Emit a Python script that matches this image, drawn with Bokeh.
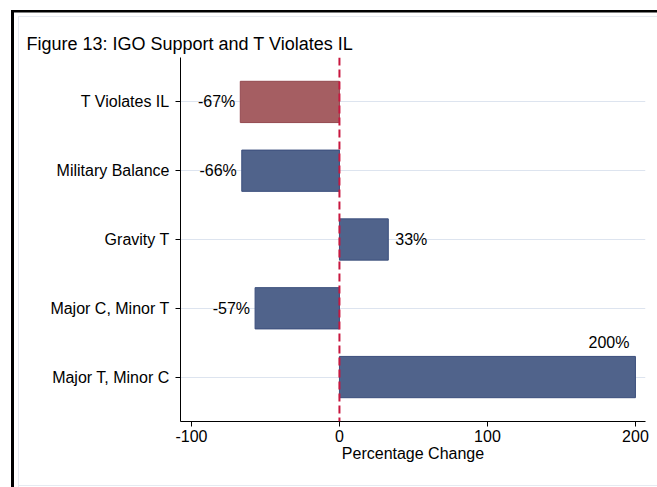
from bokeh.plotting import figure
from bokeh.models import ColumnDataSource, FixedTicker, Span, Range1d
from bokeh.core.properties import value
from bokeh.embed import file_html
from bokeh.resources import INLINE

# ---- data (top to bottom) ----
categories = ["T Violates IL", "Military Balance", "Gravity T", "Major C, Minor T", "Major T, Minor C"]
pct_change = [-67, -66, 33, -57, 200]
bar_labels = ["-67%", "-66%", "33%", "-57%", "200%"]
highlight = [True, False, False, False, False]
x_ticks = [-100, 0, 100, 200]
x_tick_labels = ["-100", "0", "100", "200"]

FONT = "Liberation Sans"
RED_FILL, RED_LINE = "#a55e62", "#94494f"
BLUE_FILL, BLUE_LINE = "#50638b", "#3b4e7c"

n = len(categories)
ypos = [n - i for i in range(n)]

src = ColumnDataSource(dict(
    y=ypos, val=pct_change, zero=[0] * n, lab=bar_labels,
    fill=[RED_FILL if h else BLUE_FILL for h in highlight],
    line=[RED_LINE if h else BLUE_LINE for h in highlight],
))

W, H = 657, 487
p = figure(width=W, height=H, output_backend="svg", toolbar_location=None,
           x_range=Range1d(-107.4, 206.8), y_range=Range1d(0.354, n + 0.646),
           min_border_left=180, min_border_right=12, min_border_top=57, min_border_bottom=66)

p.background_fill_color = "white"
p.border_fill_color = None
p.outline_line_color = None

# outer graph border (black, left/top) and faint inner graph-region outline, as CSS backgrounds
BLK = "linear-gradient(#000,#000)"
LT = "linear-gradient(#e6eaf1,#e6eaf1)"
p.styles = {
    "background-image": ", ".join([BLK, BLK, LT, LT, LT]),
    "background-position": "11px 10px, 11px 9.5px, 18px 16px, 18px 16px, 18px 485px",
    "background-size": "3px 1000px, 1000px 2.5px, 1px 1000px, 1000px 1px, 1000px 1px",
    "background-repeat": "no-repeat",
    "background-attachment": "fixed",
    "background-color": "white",
}

# title
p.title.text = "Figure 13: IGO Support and T Violates IL"
p.title.text_font = FONT
p.title.text_font_size = "18px"
p.title.text_font_style = "normal"
p.title.text_color = "black"
p.title.align = "left"
p.title.offset = -154
p.title.standoff = 8

# bars
p.hbar(y="y", left="zero", right="val", height=0.6, source=src,
       fill_color="fill", line_color="line", line_width=1)

# zero reference line
p.add_layout(Span(location=0, dimension="height", line_color="#c8173f",
                  line_dash="8 4", line_width=2))

# value labels
neg = [i for i, v in enumerate(pct_change) if v < 0]
pos_in = [i for i, v in enumerate(pct_change) if 0 <= v <= 150]
pos_top = [i for i, v in enumerate(pct_change) if v > 150]

def sub(idx):
    return ColumnDataSource(dict(x=[pct_change[i] for i in idx], y=[ypos[i] for i in idx],
                                 t=[bar_labels[i] for i in idx]))

common = dict(text="t", text_font=value(FONT), text_font_size="16px", text_color="black")
p.text(x="x", y="y", source=sub(neg), text_align="right", text_baseline="middle", x_offset=-5, **common)
p.text(x="x", y="y", source=sub(pos_in), text_align="left", text_baseline="middle", x_offset=7, **common)
src_top = sub(pos_top)
src_top.data["y"] = [y + 0.3 for y in src_top.data["y"]]
p.text(x="x", y="y", source=src_top, text_align="right", text_baseline="bottom", x_offset=-6, y_offset=-5, **common)

# axes
p.xaxis.ticker = FixedTicker(ticks=x_ticks)
p.xaxis.major_label_overrides = {t: s for t, s in zip(x_ticks, x_tick_labels)}
p.yaxis.ticker = FixedTicker(ticks=ypos)
p.yaxis.major_label_overrides = {y: c for y, c in zip(ypos, categories)}
for ax in (p.xaxis[0], p.yaxis[0]):
    ax.axis_line_color = "black"
    ax.axis_line_width = 1
    ax.major_tick_line_color = "black"
    ax.major_tick_out = 5
    ax.major_tick_in = 0
    ax.minor_tick_line_color = None
    ax.major_label_text_font = FONT
    ax.major_label_text_font_size = "16px"
    ax.major_label_text_color = "black"
p.yaxis.major_label_standoff = 6
p.xaxis.major_label_standoff = 3
p.xaxis.axis_label = "Percentage Change"
p.xaxis.axis_label_text_font = FONT
p.xaxis.axis_label_text_font_size = "16px"
p.xaxis.axis_label_text_font_style = "normal"
p.xaxis.axis_label_text_color = "black"
p.xaxis.axis_label_standoff = 0

# grid
p.xgrid.grid_line_color = None
p.ygrid.ticker = FixedTicker(ticks=ypos)
p.ygrid.grid_line_color = "#dde4ef"
p.ygrid.grid_line_width = 1
p.ygrid.level = "underlay"

open("out.html", "w").write(file_html(p, INLINE))
